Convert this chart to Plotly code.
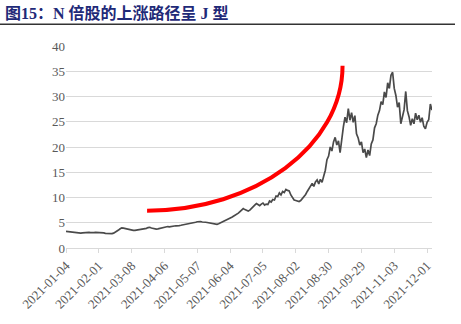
import pandas as pd
import plotly.graph_objects as go

# Closing prices, one per trading day starting 2021-01-04
prices = [
    3.3, 3.25, 3.2, 3.15, 3.1, 3.05, 3.0, 2.95, 2.9, 2.95,
    3.0, 3.05, 2.95, 3.0, 3.1, 3.05, 3.0, 3.05, 3.1, 3.1,
    3.05, 3.0, 2.95, 3.0, 2.9, 2.85, 2.9, 2.8, 2.85, 2.95,
    3.1, 3.3, 3.55, 3.8, 4.0, 3.95, 3.85, 3.75, 3.7, 3.6,
    3.55, 3.5, 3.5, 3.55, 3.6, 3.55, 3.6, 3.7, 3.8, 3.9,
    4.05, 4.1, 3.95, 3.85, 3.8, 3.75, 3.8, 3.9, 4.0, 4.1,
    4.2, 4.3, 4.25, 4.2, 4.3, 4.4, 4.35, 4.4, 4.5, 4.45,
    4.5, 4.55, 4.6, 4.7, 4.8, 4.75, 4.85, 4.9, 5.0, 5.1,
    5.2, 5.3, 5.25, 5.15, 5.2, 5.1, 5.05, 5.0, 4.95, 4.85,
    4.8, 4.75, 4.7, 4.8, 4.95, 5.1, 5.2, 5.35, 5.5, 5.7,
    5.9, 6.1, 6.3, 6.45, 6.6, 6.9, 7.2, 7.5, 7.8, 7.6,
    7.4, 7.3, 7.5, 7.9, 8.2, 8.5, 8.8, 8.5, 8.4, 8.7,
    8.9, 8.5, 8.7, 8.6, 9.3, 9.1, 9.6, 9.5, 10.3, 10.2,
    10.9, 10.5, 11.2, 11.0, 11.6, 11.4, 11.3, 10.5, 10.1, 9.5,
    9.4, 9.3, 9.2, 9.4, 9.8, 10.0, 10.6, 11.2, 11.8, 12.5,
    12.8, 12.2, 13.1, 13.5, 12.7, 13.6, 13.0, 14.2, 15.4, 17.5,
    18.2, 20.0, 19.2, 21.0, 21.9, 20.4, 21.2, 18.9, 21.8, 24.0,
    25.9, 24.8, 27.6, 25.3, 26.8, 24.9, 26.2, 22.6, 21.8, 20.4,
    21.0, 18.9, 19.6, 17.9, 19.4, 18.3, 20.6, 21.4, 23.8, 24.6,
    26.3, 27.2, 29.0, 28.4, 30.9, 29.8, 32.7, 31.6, 34.2, 34.8,
    31.6, 30.2, 27.9, 28.8, 24.6, 26.1, 27.4, 31.0, 27.2, 26.0,
    24.3, 25.6, 24.6, 26.7, 25.4, 26.3, 24.9, 25.8, 24.1, 23.6,
    24.9, 25.4, 28.5, 27.3,
]

# Exchange holidays falling on weekdays in 2021
holidays = [
    "2021-01-01", "2021-02-11", "2021-02-12", "2021-02-15", "2021-02-16",
    "2021-02-17", "2021-04-05", "2021-05-03", "2021-05-04", "2021-05-05",
    "2021-06-14", "2021-09-20", "2021-09-21", "2021-10-01", "2021-10-04",
    "2021-10-05", "2021-10-06", "2021-10-07",
]
tick_step = 20  # label every 20 trading days

# J-shaped guide arc: start (flat) and end (vertical) in (day index, price)
arc_start = (49.4, 7.4)
arc_end = (168.5, 36.1)

days = pd.bdate_range("2021-01-04", "2021-12-31")
days = [d for d in days if d.strftime("%Y-%m-%d") not in holidays][: len(prices)]
labels = [d.strftime("%Y-%m-%d") for d in days]
idx = list(range(len(prices)))
tick_vals = idx[::tick_step]
tick_text = labels[::tick_step]

fig = go.Figure()
fig.add_trace(go.Scatter(
    x=idx, y=prices, mode="lines",
    line=dict(color="#4a4a4a", width=1.7),
    customdata=labels, hovertemplate="%{customdata}: %{y}<extra></extra>",
    showlegend=False,
))

# quarter-ellipse approximated by one cubic Bezier
k = 0.5523
x0, y0 = arc_start
x1, y1 = arc_end
c1 = (x0 + k * (x1 - x0), y0)
c2 = (x1, y1 - k * (y1 - y0))
fig.add_shape(
    type="path", xref="x", yref="y",
    path=f"M {x0},{y0} C {c1[0]},{c1[1]} {c2[0]},{c2[1]} {x1},{y1}",
    line=dict(color="#ff0000", width=4),
)

L, R, T, B = 66, 29, 46, 74
W, H = 461, 324
pw, ph = W - L - R, H - T - B

# heading and rule above the plot
fig.add_annotation(
    text="图15：N 倍股的上涨路径呈 J 型",
    xref="paper", yref="paper", x=(3 - L) / pw, y=(H - B - 13) / ph,
    xanchor="left", yanchor="middle", showarrow=False,
    font=dict(family="Liberation Serif, Noto Sans CJK SC", size=16,
              color="#1f2a78", weight="bold"),
)
fig.add_shape(
    type="line", xref="paper", yref="paper",
    x0=(0 - L) / pw, x1=(455 - L) / pw,
    y0=(H - B - 24) / ph, y1=(H - B - 24) / ph,
    line=dict(color="#333333", width=1.5),
)

tick_font = dict(family="Liberation Serif, Times New Roman, serif", size=13, color="#595959")
fig.update_xaxes(
    range=[0, len(prices) - 1], tickmode="array", tickvals=tick_vals, ticktext=tick_text,
    tickangle=-45, showgrid=False, showline=True, linecolor="#d9d9d9", linewidth=1,
    ticks="outside", ticklen=4, tickcolor="#d9d9d9", tickfont=tick_font, zeroline=False,
)
fig.update_yaxes(
    range=[0, 40], dtick=5, showgrid=True, gridcolor="#d9d9d9", gridwidth=1,
    zeroline=False, showline=False, ticks="", tickfont=tick_font,
)
fig.update_layout(
    width=W, height=H, margin=dict(l=L, r=R, t=T, b=B),
    paper_bgcolor="white", plot_bgcolor="white",
)
fig.write_html("out.html")
